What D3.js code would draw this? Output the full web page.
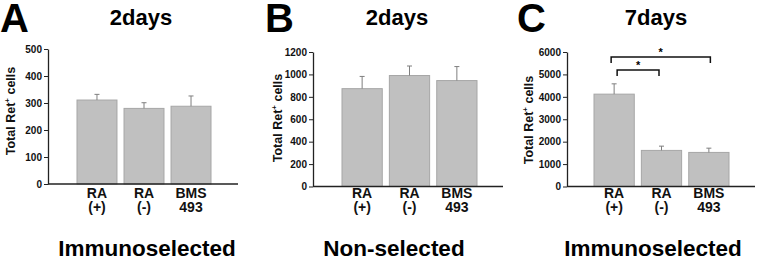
<!DOCTYPE html>
<html>
<head>
<meta charset="utf-8">
<script src="https://cdn.jsdelivr.net/npm/d3@7"></script>
<style>
  body { margin: 0; background: #fff; }
  svg { font-family: Arial, "Liberation Sans", sans-serif; font-weight: bold; }
</style>
</head>
<body>
<svg id="chart" width="757" height="259"></svg>
<script>
// Data
const categories = ["RA (+)", "RA (-)", "BMS 493"];
const panelLetters = ["A", "B", "C"];
const panelTitles = ["2days", "2days", "7days"];
const panelGroups = ["Immunoselected", "Non-selected", "Immunoselected"];
const meansA = [311, 280, 288];
const errorsA = [21, 21, 38];
const meansB = [873, 990, 945];
const errorsB = [109, 85, 125];
const meansC = [4120, 1610, 1520];
const errorsC = [460, 190, 190];
const ticksA = [0, 100, 200, 300, 400, 500];
const ticksB = [0, 200, 400, 600, 800, 1000, 1200];
const ticksC = [0, 1000, 2000, 3000, 4000, 5000, 6000];
// significance brackets on panel C
const bracketsC = [
  { from: "RA (+)", to: "BMS 493", level: 5780 },
  { from: "RA (+)", to: "RA (-)", level: 5200 }
];

// Layout for each panel
const layout = [
  { axisX: 48, bars: [77, 211], end: 238, y0: 184, yTop: 49, titleX: 141, groupX: 147, letterX: 0, labelX: 10, labelY: 111 },
  { axisX: 313, bars: [342, 477], end: 503, y0: 186.5, yTop: 52, titleX: 397, groupX: 394, letterX: 265, labelX: 277, labelY: 118 },
  { axisX: 567, bars: [594, 729], end: 755, y0: 186.5, yTop: 52, titleX: 656, groupX: 653, letterX: 517, labelX: 528, labelY: 120 }
];

const panels = [
  { means: meansA, errors: errorsA, ticks: ticksA, brackets: [] },
  { means: meansB, errors: errorsB, ticks: ticksB, brackets: [] },
  { means: meansC, errors: errorsC, ticks: ticksC, brackets: bracketsC }
];

const svg = d3.select("#chart");

panels.forEach((p, i) => {
  const L = layout[i];
  const g = svg.append("g");

  const y = d3.scaleLinear()
    .domain([0, d3.max(p.ticks)])
    .range([L.y0, L.yTop]);

  const x = d3.scaleBand()
    .domain(categories)
    .range(L.bars)
    .paddingInner(0.15)
    .paddingOuter(0);

  // panel letter + title
  g.append("text")
    .attr("x", L.letterX)
    .attr("y", 32)
    .style("font-size", "40px")
    .text(panelLetters[i]);

  g.append("text")
    .attr("x", L.titleX)
    .attr("y", 25)
    .attr("text-anchor", "middle")
    .style("font-size", "22px")
    .text(panelTitles[i]);

  // bars
  g.selectAll("rect.bar")
    .data(p.means)
    .enter().append("rect")
    .attr("class", "bar")
    .attr("x", (d, j) => x(categories[j]))
    .attr("y", d => y(d))
    .attr("width", x.bandwidth())
    .attr("height", d => y(0) - y(d))
    .attr("fill", "#c0c0c0")
    .attr("stroke", "#a6a6a6")
    .attr("stroke-width", 1);

  // error bars (upper only)
  const err = g.selectAll("g.err")
    .data(p.means)
    .enter().append("g")
    .attr("class", "err");

  err.append("line")
    .attr("x1", (d, j) => x(categories[j]) + x.bandwidth() / 2)
    .attr("x2", (d, j) => x(categories[j]) + x.bandwidth() / 2)
    .attr("y1", d => y(d))
    .attr("y2", (d, j) => y(d + p.errors[j]))
    .attr("stroke", "#7f7f7f")
    .attr("stroke-width", 1);

  err.append("line")
    .attr("x1", (d, j) => x(categories[j]) + x.bandwidth() / 2 - 2.5)
    .attr("x2", (d, j) => x(categories[j]) + x.bandwidth() / 2 + 2.5)
    .attr("y1", (d, j) => y(d + p.errors[j]))
    .attr("y2", (d, j) => y(d + p.errors[j]))
    .attr("stroke", "#7f7f7f")
    .attr("stroke-width", 1);

  // y axis
  const yAxis = d3.axisLeft(y)
    .tickValues(p.ticks)
    .tickFormat(d3.format("d"))
    .tickSize(4)
    .tickSizeOuter(0)
    .tickPadding(2);

  const ya = g.append("g")
    .attr("transform", `translate(${L.axisX},0)`)
    .call(yAxis);
  ya.select(".domain").attr("stroke", "#222").attr("stroke-width", 1.3);
  ya.selectAll(".tick line").attr("stroke", "#222");
  ya.selectAll(".tick text")
    .attr("fill", "#111")
    .style("font-size", "10px")
    .style("font-family", "Arial, 'Liberation Sans', sans-serif")
    .style("font-weight", "bold");

  // x axis line
  g.append("line")
    .attr("x1", L.axisX)
    .attr("x2", L.end)
    .attr("y1", y(0))
    .attr("y2", y(0))
    .attr("stroke", "#222")
    .attr("stroke-width", 1.3);

  // category labels, two lines each
  categories.forEach(c => {
    c.split(" ").forEach((s, k) => {
      g.append("text")
        .attr("x", x(c) + x.bandwidth() / 2)
        .attr("y", 198 + k * 14)
        .attr("text-anchor", "middle")
        .style("font-size", "14px")
        .attr("fill", "#111")
        .text(s);
    });
  });

  // y axis label
  const lab = g.append("text")
    .attr("transform", `translate(${L.labelX + 4.5},${L.labelY}) rotate(-90)`)
    .attr("text-anchor", "middle")
    .style("font-size", "12.5px")
    .attr("fill", "#111");
  lab.append("tspan").text("Total Ret");
  lab.append("tspan").attr("dy", -5).style("font-size", "8px").text("+");
  lab.append("tspan").attr("dy", 5).text(" cells");

  // group label
  g.append("text")
    .attr("x", L.groupX)
    .attr("y", 256)
    .attr("text-anchor", "middle")
    .style("font-size", "22.5px")
    .text(panelGroups[i]);

  // significance brackets
  p.brackets.forEach((b, k) => {
    const x1 = x(b.from) + x.bandwidth() / 2 + (k === 0 ? -3 : 3);
    const x2 = x(b.to) + x.bandwidth() / 2 + (k === 0 ? 1.5 : -2.5);
    const yt = y(b.level);
    const leg = 6;
    g.append("path")
      .attr("d", `M${x1},${yt + leg}V${yt}H${x2}V${yt + leg}`)
      .attr("fill", "none")
      .attr("stroke", "#111")
      .attr("stroke-width", 1.5);
    g.append("text")
      .attr("x", (x1 + x2) / 2)
      .attr("y", yt - 1)
      .attr("text-anchor", "middle")
      .style("font-size", "11px")
      .text("*");
  });
});
</script>
</body>
</html>
